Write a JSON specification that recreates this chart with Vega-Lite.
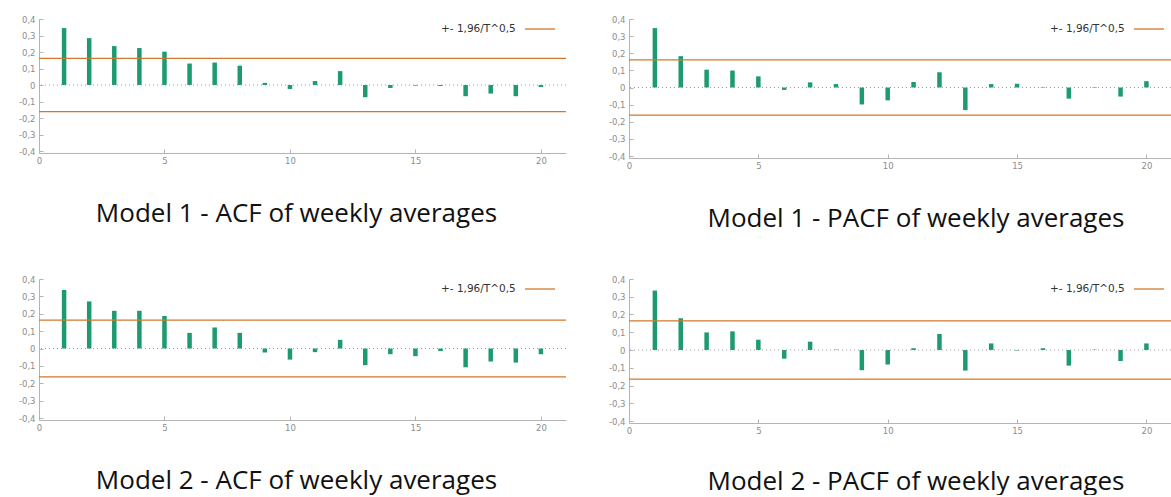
{
  "$schema": "https://vega.github.io/schema/vega-lite/v6.json",
  "background": "white",
  "padding": {"left": 18, "top": 15, "right": 0, "bottom": 0},
  "spacing": 43,
  "datasets": {
    "acf": [
      {"p": 1, "lag": 1, "v": 0.345}, {"p": 1, "lag": 2, "v": 0.284}, {"p": 1, "lag": 3, "v": 0.236}, {"p": 1, "lag": 4, "v": 0.224}, {"p": 1, "lag": 5, "v": 0.202},
      {"p": 1, "lag": 6, "v": 0.130}, {"p": 1, "lag": 7, "v": 0.136}, {"p": 1, "lag": 8, "v": 0.117}, {"p": 1, "lag": 9, "v": 0.013}, {"p": 1, "lag": 10, "v": -0.024},
      {"p": 1, "lag": 11, "v": 0.024}, {"p": 1, "lag": 12, "v": 0.084}, {"p": 1, "lag": 13, "v": -0.074}, {"p": 1, "lag": 14, "v": -0.018}, {"p": 1, "lag": 15, "v": -0.004},
      {"p": 1, "lag": 16, "v": -0.006}, {"p": 1, "lag": 17, "v": -0.068}, {"p": 1, "lag": 18, "v": -0.052}, {"p": 1, "lag": 19, "v": -0.068}, {"p": 1, "lag": 20, "v": -0.012},
      {"p": 2, "lag": 1, "v": 0.347}, {"p": 2, "lag": 2, "v": 0.183}, {"p": 2, "lag": 3, "v": 0.104}, {"p": 2, "lag": 4, "v": 0.099}, {"p": 2, "lag": 5, "v": 0.065},
      {"p": 2, "lag": 6, "v": -0.014}, {"p": 2, "lag": 7, "v": 0.030}, {"p": 2, "lag": 8, "v": 0.020}, {"p": 2, "lag": 9, "v": -0.099}, {"p": 2, "lag": 10, "v": -0.075},
      {"p": 2, "lag": 11, "v": 0.032}, {"p": 2, "lag": 12, "v": 0.089}, {"p": 2, "lag": 13, "v": -0.132}, {"p": 2, "lag": 14, "v": 0.020}, {"p": 2, "lag": 15, "v": 0.022},
      {"p": 2, "lag": 16, "v": 0.003}, {"p": 2, "lag": 17, "v": -0.065}, {"p": 2, "lag": 18, "v": -0.003}, {"p": 2, "lag": 19, "v": -0.053}, {"p": 2, "lag": 20, "v": 0.037},
      {"p": 3, "lag": 1, "v": 0.337}, {"p": 3, "lag": 2, "v": 0.271}, {"p": 3, "lag": 3, "v": 0.217}, {"p": 3, "lag": 4, "v": 0.217}, {"p": 3, "lag": 5, "v": 0.187},
      {"p": 3, "lag": 6, "v": 0.090}, {"p": 3, "lag": 7, "v": 0.121}, {"p": 3, "lag": 8, "v": 0.090}, {"p": 3, "lag": 9, "v": -0.023}, {"p": 3, "lag": 10, "v": -0.064},
      {"p": 3, "lag": 11, "v": -0.021}, {"p": 3, "lag": 12, "v": 0.050}, {"p": 3, "lag": 13, "v": -0.096}, {"p": 3, "lag": 14, "v": -0.033}, {"p": 3, "lag": 15, "v": -0.044},
      {"p": 3, "lag": 16, "v": -0.015}, {"p": 3, "lag": 17, "v": -0.108}, {"p": 3, "lag": 18, "v": -0.075}, {"p": 3, "lag": 19, "v": -0.081}, {"p": 3, "lag": 20, "v": -0.033},
      {"p": 4, "lag": 1, "v": 0.335}, {"p": 4, "lag": 2, "v": 0.179}, {"p": 4, "lag": 3, "v": 0.099}, {"p": 4, "lag": 4, "v": 0.105}, {"p": 4, "lag": 5, "v": 0.058},
      {"p": 4, "lag": 6, "v": -0.049}, {"p": 4, "lag": 7, "v": 0.047}, {"p": 4, "lag": 8, "v": 0.002}, {"p": 4, "lag": 9, "v": -0.114}, {"p": 4, "lag": 10, "v": -0.082},
      {"p": 4, "lag": 11, "v": 0.010}, {"p": 4, "lag": 12, "v": 0.090}, {"p": 4, "lag": 13, "v": -0.116}, {"p": 4, "lag": 14, "v": 0.037}, {"p": 4, "lag": 15, "v": -0.003},
      {"p": 4, "lag": 16, "v": 0.010}, {"p": 4, "lag": 17, "v": -0.088}, {"p": 4, "lag": 18, "v": 0.002}, {"p": 4, "lag": 19, "v": -0.062}, {"p": 4, "lag": 20, "v": 0.037}
    ],
    "bands": [
      {"p": 1, "v": 0.161, "s": "+- 1,96/T^0,5"}, {"p": 1, "v": -0.161, "s": "+- 1,96/T^0,5"},
      {"p": 2, "v": 0.161, "s": "+- 1,96/T^0,5"}, {"p": 2, "v": -0.161, "s": "+- 1,96/T^0,5"},
      {"p": 3, "v": 0.163, "s": "+- 1,96/T^0,5"}, {"p": 3, "v": -0.163, "s": "+- 1,96/T^0,5"},
      {"p": 4, "v": 0.164, "s": "+- 1,96/T^0,5"}, {"p": 4, "v": -0.164, "s": "+- 1,96/T^0,5"}
    ],
    "zero": [{"v": 0}]
  },
  "config": {
    "view": {"stroke": null},
    "axis": {"grid": false, "domainColor": "#b4b4b4", "tickColor": "#b4b4b4", "labelColor": "#8c8c8c", "labelFont": "DejaVu Sans", "labelFontSize": 8.5, "labelOverlap": false, "labelBound": false, "labelFlush": false},
    "title": {"orient": "bottom", "font": "Open Sans", "fontSize": 26, "fontWeight": "normal", "color": "#111111", "offset": 36, "anchor": "middle"},
    "legend": {"orient": "top-right", "titleOrient": "left", "titleAnchor": "middle", "titleBaseline": "middle", "symbolType": "M-3,0H3", "symbolSize": 100, "symbolStrokeWidth": 1.3, "titleFont": "DejaVu Sans", "titleFontSize": 10.5, "titleFontWeight": "normal", "titleColor": "#333333", "titlePadding": 18, "offset": 4, "padding": 0, "labelOffset": 16}
  },
  "resolve": {"legend": {"color": "independent"}, "scale": {"color": "independent"}},
  "vconcat": [
    {
      "spacing": 41,
      "resolve": {"legend": {"color": "independent"}, "scale": {"color": "independent"}},
      "hconcat": [
        {
          "width": 527, "height": 132,
          "title": {"text": "Model 1 - ACF of weekly averages", "dx": -6},
          "encoding": {
            "y": {"field": "v", "type": "quantitative", "scale": {"domain": [-0.4, 0.4], "nice": false}, "axis": {"title": null, "values": [-0.4, -0.3, -0.2, -0.1, 0, 0.1, 0.2, 0.3, 0.4], "tickSize": -4, "labelPadding": 8, "labelOverlap": false, "labelExpr": "replace(replace(format(datum.value, '.1~f'), '.', ','), '\u2212', '-')"}}
          },
          "layer": [
            {"data": {"name": "acf"}, "transform": [{"filter": "datum.p == 1"}], "mark": {"type": "bar", "width": 4.5, "color": "#1d9a72"},
              "encoding": {
                "x": {"field": "lag", "type": "quantitative", "scale": {"domain": [0, 21], "nice": false, "padding": 0}, "axis": {"title": null, "values": [0, 5, 10, 15, 20], "offset": 2, "tickSize": -4, "labelPadding": 7}}
              }},
            {"data": {"name": "zero"}, "mark": {"type": "rule", "strokeDash": [1, 3], "color": "#9a9a9a"}, "encoding": {}},
            {"data": {"name": "bands"}, "transform": [{"filter": "datum.p == 1"}], "mark": {"type": "rule", "strokeWidth": 1.3},
              "encoding": {"color": {"field": "s", "type": "nominal", "scale": {"range": ["#d0792e"]}, "legend": {"title": "+- 1,96/T^0,5", "labelExpr": "''"}}}}
          ]
        },
        {
          "width": 542, "height": 137,
          "title": {"text": "Model 1 - PACF of weekly averages", "dx": 16},
          "encoding": {
            "y": {"field": "v", "type": "quantitative", "scale": {"domain": [-0.4, 0.4], "nice": false}, "axis": {"title": null, "values": [-0.4, -0.3, -0.2, -0.1, 0, 0.1, 0.2, 0.3, 0.4], "tickSize": -4, "labelPadding": 8, "labelOverlap": false, "labelExpr": "replace(replace(format(datum.value, '.1~f'), '.', ','), '\u2212', '-')"}}
          },
          "layer": [
            {"data": {"name": "acf"}, "transform": [{"filter": "datum.p == 2"}], "mark": {"type": "bar", "width": 4.5, "color": "#1d9a72"},
              "encoding": {
                "x": {"field": "lag", "type": "quantitative", "scale": {"domain": [0, 20.95], "nice": false, "padding": 0}, "axis": {"title": null, "values": [0, 5, 10, 15, 20], "offset": 2, "tickSize": -4, "labelPadding": 7}}
              }},
            {"data": {"name": "zero"}, "mark": {"type": "rule", "strokeDash": [1, 3], "color": "#9a9a9a"}, "encoding": {}},
            {"data": {"name": "bands"}, "transform": [{"filter": "datum.p == 2"}], "mark": {"type": "rule", "strokeWidth": 1.3},
              "encoding": {"color": {"field": "s", "type": "nominal", "scale": {"range": ["#d0792e"]}, "legend": {"title": "+- 1,96/T^0,5", "labelExpr": "''", "labelOffset": 12}}}}
          ]
        }
      ]
    },
    {
      "spacing": 41,
      "resolve": {"legend": {"color": "independent"}, "scale": {"color": "independent"}},
      "hconcat": [
        {
          "width": 527, "height": 139,
          "title": {"text": "Model 2 - ACF of weekly averages", "dx": -6, "offset": 36},
          "encoding": {
            "y": {"field": "v", "type": "quantitative", "scale": {"domain": [-0.4, 0.4], "nice": false}, "axis": {"title": null, "values": [-0.4, -0.3, -0.2, -0.1, 0, 0.1, 0.2, 0.3, 0.4], "tickSize": -4, "labelPadding": 8, "labelOverlap": false, "labelExpr": "replace(replace(format(datum.value, '.1~f'), '.', ','), '\u2212', '-')"}}
          },
          "layer": [
            {"data": {"name": "acf"}, "transform": [{"filter": "datum.p == 3"}], "mark": {"type": "bar", "width": 4.5, "color": "#1d9a72"},
              "encoding": {
                "x": {"field": "lag", "type": "quantitative", "scale": {"domain": [0, 21], "nice": false, "padding": 0}, "axis": {"title": null, "values": [0, 5, 10, 15, 20], "offset": 2, "tickSize": -4, "labelPadding": 7}}
              }},
            {"data": {"name": "zero"}, "mark": {"type": "rule", "strokeDash": [1, 3], "color": "#9a9a9a"}, "encoding": {}},
            {"data": {"name": "bands"}, "transform": [{"filter": "datum.p == 3"}], "mark": {"type": "rule", "strokeWidth": 1.3},
              "encoding": {"color": {"field": "s", "type": "nominal", "scale": {"range": ["#d0792e"]}, "legend": {"title": "+- 1,96/T^0,5", "labelExpr": "''"}}}}
          ]
        },
        {
          "width": 542, "height": 142,
          "title": {"text": "Model 2 - PACF of weekly averages", "dx": 16, "offset": 34},
          "encoding": {
            "y": {"field": "v", "type": "quantitative", "scale": {"domain": [-0.4, 0.4], "nice": false}, "axis": {"title": null, "values": [-0.4, -0.3, -0.2, -0.1, 0, 0.1, 0.2, 0.3, 0.4], "tickSize": -4, "labelPadding": 8, "labelOverlap": false, "labelExpr": "replace(replace(format(datum.value, '.1~f'), '.', ','), '\u2212', '-')"}}
          },
          "layer": [
            {"data": {"name": "acf"}, "transform": [{"filter": "datum.p == 4"}], "mark": {"type": "bar", "width": 4.5, "color": "#1d9a72"},
              "encoding": {
                "x": {"field": "lag", "type": "quantitative", "scale": {"domain": [0, 20.95], "nice": false, "padding": 0}, "axis": {"title": null, "values": [0, 5, 10, 15, 20], "offset": 2, "tickSize": -4, "labelPadding": 7}}
              }},
            {"data": {"name": "zero"}, "mark": {"type": "rule", "strokeDash": [1, 3], "color": "#9a9a9a"}, "encoding": {}},
            {"data": {"name": "bands"}, "transform": [{"filter": "datum.p == 4"}], "mark": {"type": "rule", "strokeWidth": 1.3},
              "encoding": {"color": {"field": "s", "type": "nominal", "scale": {"range": ["#d0792e"]}, "legend": {"title": "+- 1,96/T^0,5", "labelExpr": "''", "labelOffset": 12}}}}
          ]
        }
      ]
    }
  ]
}
